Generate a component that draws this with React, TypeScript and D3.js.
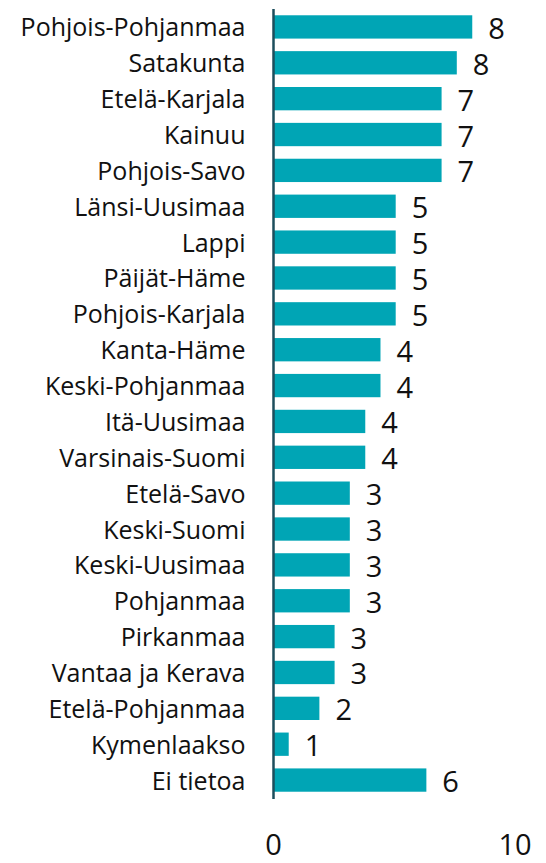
import React from "react";
import * as d3 from "d3";

const categories = [
  "Pohjois-Pohjanmaa", "Satakunta", "Etelä-Karjala", "Kainuu", "Pohjois-Savo",
  "Länsi-Uusimaa", "Lappi", "Päijät-Häme", "Pohjois-Karjala", "Kanta-Häme",
  "Keski-Pohjanmaa", "Itä-Uusimaa", "Varsinais-Suomi", "Etelä-Savo", "Keski-Suomi",
  "Keski-Uusimaa", "Pohjanmaa", "Pirkanmaa", "Vantaa ja Kerava", "Etelä-Pohjanmaa",
  "Kymenlaakso", "Ei tietoa",
];
const values = [
  8.23, 7.59, 6.96, 6.96, 6.96,
  5.06, 5.06, 5.06, 5.06, 4.43,
  4.43, 3.8, 3.8, 3.16, 3.16,
  3.16, 3.16, 2.53, 2.53, 1.9,
  0.63, 6.33,
];
const tickValues = [0, 10];

const W = 546;
const H = 863;
const X0 = 273.5;
const X10 = 515;
const TEAL = "#00A5B5";
const AXIS = "#1d4e5c";
const FONT = "'Open Sans', 'Noto Sans', sans-serif";

export default function App() {
  const x = d3.scaleLinear().domain([0, 10]).range([X0, X10]);
  const y = d3
    .scaleBand<string>()
    .domain(categories)
    .range([9, 798])
    .paddingInner(0.35)
    .paddingOuter(0.175);
  const bw = y.bandwidth();

  return (
    <svg
      width={W}
      height={H}
      style={{ position: "absolute", left: 0, top: 0 }}
      fontFamily={FONT}
    >
      <rect width={W} height={H} fill="#fff" />
      {categories.map((c, i) => {
        const yy = y(c)!;
        const v = values[i];
        return (
          <g key={c}>
            <rect x={x(0)} y={yy} width={x(v) - x(0)} height={bw} fill={TEAL} />
            <text
              x={x(0) - 28}
              y={yy + bw / 2 + 9.5}
              textAnchor="end"
              fontSize={25}
              fill="#111"
            >
              {c}
            </text>
            <text
              x={x(v) + 16}
              y={yy + bw / 2 + 12}
              textAnchor="start"
              fontSize={29}
              fill="#111"
            >
              {Math.round(v)}
            </text>
          </g>
        );
      })}
      <line x1={x(0)} x2={x(0)} y1={9} y2={799} stroke={AXIS} strokeWidth={2.5} />
      {tickValues.map((t) => (
        <text
          key={t}
          x={x(t)}
          y={855}
          textAnchor="middle"
          fontSize={29}
          fill="#111"
        >
          {t}
        </text>
      ))}
    </svg>
  );
}
